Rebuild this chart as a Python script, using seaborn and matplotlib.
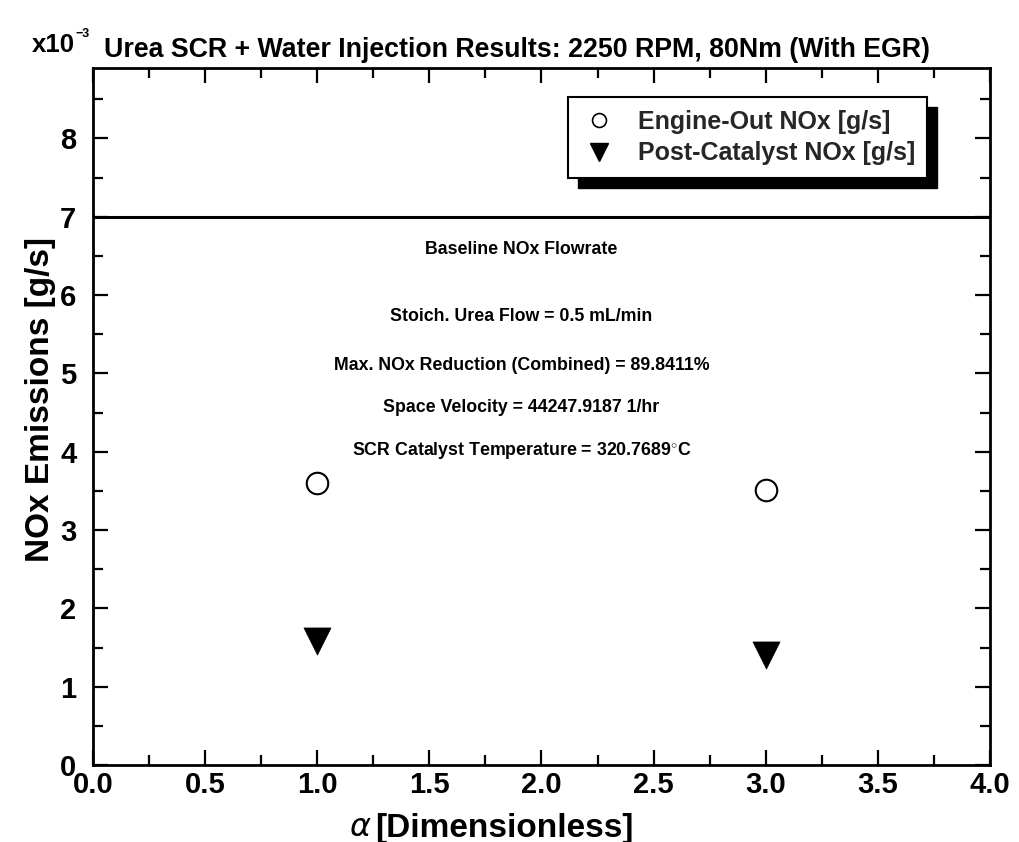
import matplotlib
matplotlib.use("Agg")
import matplotlib.pyplot as plt
import seaborn as sns
import numpy as np
import pandas as pd
from matplotlib.patches import Rectangle
from matplotlib.ticker import MultipleLocator

# ---- data (NOx in units of 1e-3 g/s) ----
alpha = [1.0, 3.0]
engine_out = [3.60, 3.51]
post_catalyst = [1.58, 1.40]
baseline_nox = 7.0
title = "Urea SCR + Water Injection Results: 2250 RPM, 80Nm (With EGR)"
series_labels = ["Engine-Out NOx [g/s]", "Post-Catalyst NOx [g/s]"]
notes = ["Baseline NOx Flowrate",
         "Stoich. Urea Flow = 0.5 mL/min",
         "Max. NOx Reduction (Combined) = 89.8411%",
         "Space Velocity = 44247.9187 1/hr",
         "SCR Catalyst Temperature = 320.7689$^{\\circ}$C"]
note_y = [6.58, 5.73, 5.10, 4.57, 4.02]
x_ticks = [0.0, 0.5, 1.0, 1.5, 2.0, 2.5, 3.0, 3.5, 4.0]
y_ticks = [0, 1, 2, 3, 4, 5, 6, 7, 8]

sns.set_theme(style="ticks")
plt.rcParams['font.family'] = ['Liberation Sans', 'DejaVu Sans']
plt.rcParams['mathtext.fontset'] = 'custom'
plt.rcParams['mathtext.rm'] = 'Liberation Sans:bold'

fig = plt.figure(figsize=(10.2, 8.42), dpi=100)
ax = fig.add_axes([93/1020, 1-765/842, 897/1020, 697/842])

df1 = pd.DataFrame({"alpha": alpha, "nox": engine_out})
df2 = pd.DataFrame({"alpha": alpha, "nox": post_catalyst})
sns.scatterplot(data=df1, x="alpha", y="nox", marker="o", s=240, color="white",
                edgecolor="black", linewidth=1.5, ax=ax, zorder=3)
sns.scatterplot(data=df2, x="alpha", y="nox", marker="v", s=380, color="black",
                edgecolor="black", linewidth=0.5, ax=ax, zorder=3)
ax.axhline(baseline_nox, color="black", lw=2.2, zorder=2)

ax.set_xlim(0, 4.0)
ax.set_ylim(0, 8.9)
ax.set_xticks(x_ticks)
ax.set_xticklabels([f"{v:.1f}" for v in x_ticks])
ax.set_yticks(y_ticks)
ax.set_yticklabels([str(v) for v in y_ticks])
ax.xaxis.set_minor_locator(MultipleLocator(0.25))
ax.yaxis.set_minor_locator(MultipleLocator(0.5))
ax.tick_params(which="both", direction="in", top=True, right=True, width=1.6, color="black")
ax.tick_params(which="major", length=11)
ax.tick_params(which="minor", length=7)
ax.tick_params(axis="x", which="major", labelsize=21, pad=4)
ax.tick_params(axis="y", which="major", labelsize=21, pad=12)
for lab in ax.get_xticklabels() + ax.get_yticklabels():
    lab.set_fontweight("bold")
    lab.set_color("black")
for sp in ax.spines.values():
    sp.set_linewidth(2)
    sp.set_color("black")

ax.set_xlabel("")
ax.set_ylabel("NOx Emissions [g/s]", fontsize=24, fontweight="bold", color="black")
ax.yaxis.set_label_coords(-0.058 + 15/897, 0.525)
fig.text(372/1020, 1-828/842, r"$\alpha$", fontsize=23, ha="right", va="center",
         family=['DejaVu Serif'], color="black")
fig.text(375/1020, 1-828/842, "[Dimensionless]", fontsize=24, fontweight="bold",
         ha="left", va="center", color="black")

# title with exponent marker
fig.text(32/1020, 1-45/842, "x10", fontsize=18.5, fontweight="bold", ha="left", va="center", color="black")
fig.text(76/1020, 1-34/842, "\u22123", fontsize=9, fontweight="bold", ha="left", va="center", color="black")
fig.text(517/1020, 1-50/842, title, fontsize=19.3, fontweight="bold", ha="center", va="center",
         color="black")

for txt, yy in zip(notes, note_y):
    ax.text(1.91, yy, txt, fontsize=12.8, fontweight="bold", ha="center", va="center", color="black")

# legend with black drop shadow
handles = [plt.Line2D([], [], ls="none", marker="o", ms=10, mfc="white", mec="black", mew=1.2),
           plt.Line2D([], [], ls="none", marker="v", ms=13, mfc="black", mec="black")]
leg = ax.legend(handles, series_labels, loc="upper left", bbox_to_anchor=(0.529, 0.958),
                borderaxespad=0, frameon=True, fancybox=False, edgecolor="black",
                framealpha=1, facecolor="white",
                prop={"weight": "bold", "size": 18}, handletextpad=0.8, borderpad=0.5,
                labelspacing=0.3, handlelength=1.5)
leg.get_frame().set_linewidth(1.5)
leg.set_zorder(6)
fig.canvas.draw()
bb = leg.get_window_extent().transformed(fig.transFigure.inverted())
dx, dy = 10/1020, 10/842
shadow = Rectangle((bb.x0 + dx, bb.y0 - dy), bb.width, bb.height, transform=fig.transFigure,
                   facecolor="black", edgecolor="black", zorder=5, clip_on=False)
ax.add_patch(shadow)

fig.savefig("out.png", dpi=100)
